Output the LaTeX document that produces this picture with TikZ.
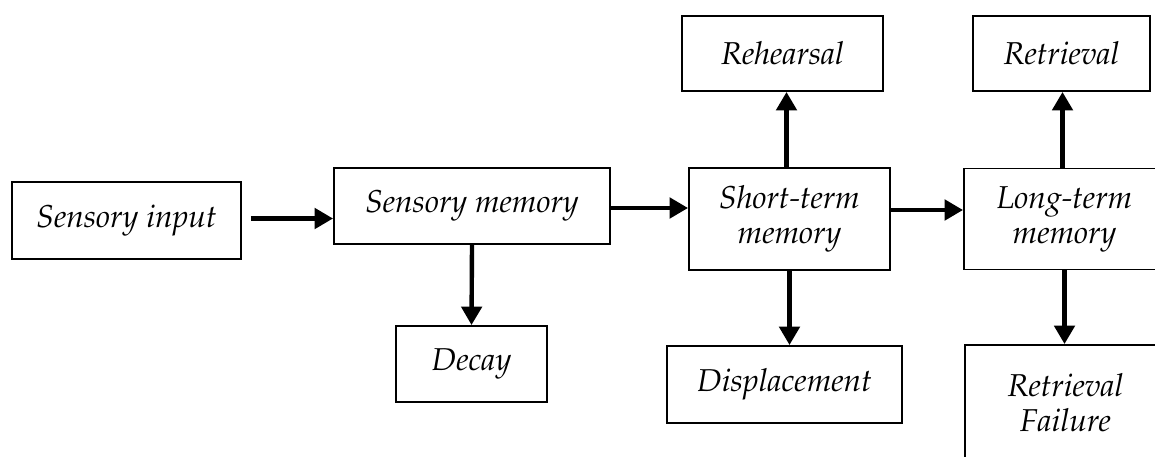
\documentclass[tikz,border=0pt]{standalone}
\usepackage[T1]{fontenc}
\usepackage{mathpazo}
\usepackage{tikz}
\usetikzlibrary{arrows.meta,positioning}
\tikzset{blk/.style={rectangle,draw,line width=1.1pt,align=center,inner sep=0pt,font=\fontsize{18}{20}\selectfont\itshape}}
\tikzset{arr/.style={line width=2.5pt,-{Triangle[length=10.5pt,width=11.5pt]}}}

\begin{document}
\begin{tikzpicture}[x=0.02cm,y=-0.02cm]
    \useasboundingbox (0,0) rectangle (1155,456);
    \clip (0,0) rectangle (1155,456);

    \node[blk,minimum width=229*0.02cm,minimum height=77*0.02cm] (inp)at (126.5,220.5) {Sensory input};
    \node[blk,minimum width=276*0.02cm,minimum height=76*0.02cm] (smem)at (472,206) {Sensory memory};
    \node[blk,minimum width=151*0.02cm,minimum height=76*0.02cm] (decay)at (471.5,364) {Decay};
    \node[blk,minimum width=201*0.02cm,minimum height=102*0.02cm] (stm)at (789.5,219) {Short-term\\memory};
    \node[blk,minimum width=201*0.02cm,minimum height=75*0.02cm] (reh)at (782.5,53.5) {Rehearsal};
    \node[blk,minimum width=235*0.02cm,minimum height=77*0.02cm] (disp)at (784.5,384.5) {Displacement};
    \node[blk,minimum width=201*0.02cm,minimum height=101*0.02cm] (ltm)at (1064.5,219) {Long-term\\memory};
    \node[blk,minimum width=177*0.02cm,minimum height=75*0.02cm] (ret)at (1061.5,53.5) {Retrieval};
    \node[blk,minimum width=201*0.02cm,minimum height=130*0.02cm,text depth=15*0.02cm] (fail)at (1065.5,410) {Retrieval\\Failure};

    \coordinate (a1) at ([xshift=9*0.02cm,yshift=2*0.02cm]inp.east);
    \coordinate (a2) at ([yshift=-2*0.02cm]smem.east);
    \coordinate (a3) at ([yshift=9*0.02cm]stm.east);
    \coordinate (a4) at ([xshift=-3*0.02cm]stm.north);
    \coordinate (a5) at ([xshift=-2*0.02cm]ltm.north);

    \draw [arr] (a1) -- (smem.west |- a1);
    \draw [arr] (a2) -- (stm.west |- a2);
    \draw [arr] (a3) -- (ltm.west |- a3);
    \draw [arr] (smem.south) -- (decay.north);
    \draw [arr] (a4) -- (a4 |- reh.south);
    \draw [arr] (stm.south) -- (stm.south |- disp.north);
    \draw [arr] (a5) -- (a5 |- ret.south);
    \draw [arr] (ltm.south) -- (ltm.south |- fail.north);
\end{tikzpicture}
\end{document}
